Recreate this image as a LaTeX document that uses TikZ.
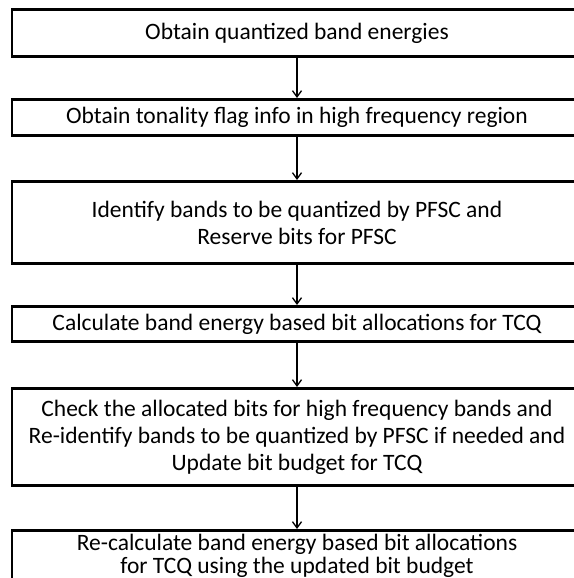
\documentclass[tikz,border=0pt]{standalone}
\usepackage{fontspec}
\setmainfont{Carlito}
\usepackage{tikz}
\usetikzlibrary{arrows.meta,positioning}
\tikzset{
  stepbox/.style={rectangle,draw=black,line width=2.6pt,fill=white,align=center,minimum width=570pt,inner sep=0pt,outer sep=0pt,font=\fontsize{23.5}{27}\selectfont},
  edge/.style={-{Straight Barb[length=2.2mm,width=3.2mm]},line width=1.3pt,draw=black,shorten >=1.3pt,shorten <=1.3pt}
}

\begin{document}
\begin{tikzpicture}[x=1pt,y=1pt]
\useasboundingbox[fill=white] (0,0) rectangle (573,-578);
\node[stepbox,minimum height=47.4pt] (energy) at (297,-33) {Obtain quantized band energies};
\node[stepbox,minimum height=36.4pt,below=42.6pt of energy] (tonal) {Obtain tonality flag info in high frequency region};
\node[stepbox,minimum height=82.4pt,below=45.6pt of tonal] (pfsc) {Identify bands to be quantized by PFSC and\\Reserve bits for PFSC};
\node[stepbox,minimum height=35.4pt,below=42.6pt of pfsc] (alloc) {Calculate band energy based bit allocations for TCQ};
\node[stepbox,minimum height=97.4pt,below=46.6pt of alloc] (check) {Check the allocated bits for high frequency bands and\\Re-identify bands to be quantized by PFSC if needed and\\Update bit budget for TCQ};
\node[stepbox,minimum height=50.4pt,below=44.6pt of check,font=\fontsize{23.5}{23}\selectfont] (realloc) {Re-calculate band energy based bit allocations\\for TCQ using the updated bit budget};
\draw[edge] (energy) -- (tonal);
\draw[edge] (tonal) -- (pfsc);
\draw[edge] (pfsc) -- (alloc);
\draw[edge] (alloc) -- (check);
\draw[edge] (check) -- (realloc);
\end{tikzpicture}
\end{document}
